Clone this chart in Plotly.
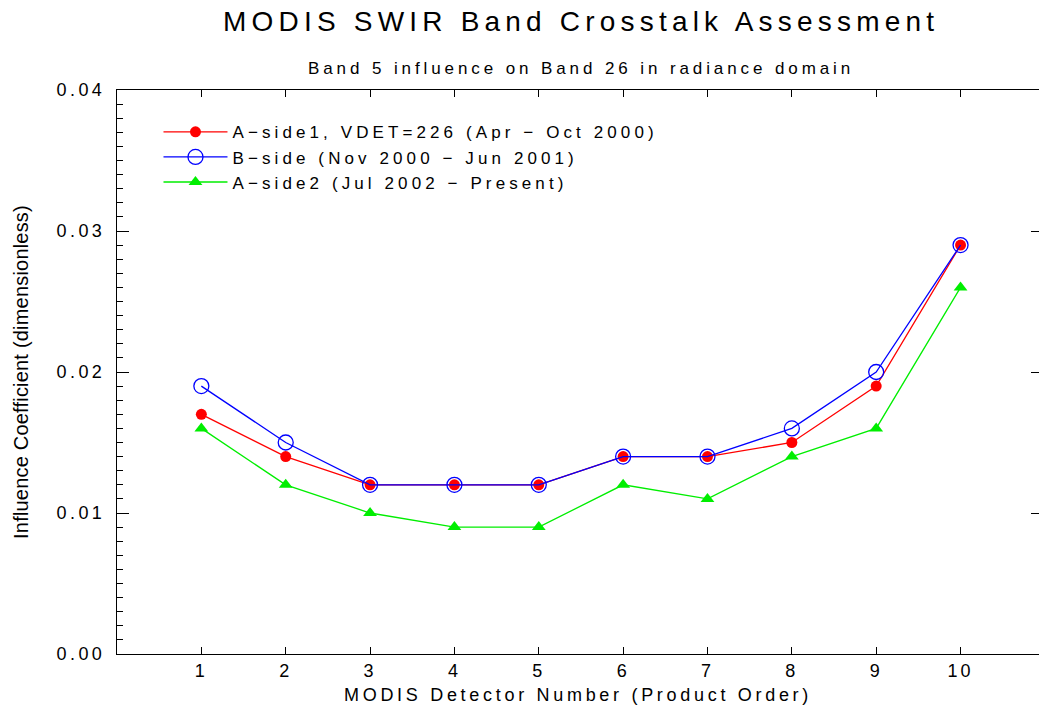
import plotly.graph_objects as go

detectors = [1, 2, 3, 4, 5, 6, 7, 8, 9, 10]
a_side1 = [0.017, 0.014, 0.012, 0.012, 0.012, 0.014, 0.014, 0.015, 0.019, 0.029]
b_side = [0.019, 0.015, 0.012, 0.012, 0.012, 0.014, 0.014, 0.016, 0.020, 0.029]
a_side2 = [0.016, 0.012, 0.010, 0.009, 0.009, 0.012, 0.011, 0.014, 0.016, 0.026]
y_ticks = [0, 0.01, 0.02, 0.03, 0.04]
y_ticklabels = ["0.00", "0.01", "0.02", "0.03", "0.04"]

names = ["A\u2212side1, VDET=226 (Apr \u2212 Oct 2000)",
         "B\u2212side (Nov 2000 \u2212 Jun 2001)",
         "A\u2212side2 (Jul 2002 \u2212 Present)"]
title_text = "MODIS SWIR Band Crosstalk Assessment"
subtitle_text = "Band 5 influence on Band 26 in radiance domain"
x_title = "MODIS Detector Number (Product Order)"
y_title = "Influence Coefficient (dimensionless)"

FONT = "Liberation Sans, Arial, sans-serif"


def sp(text, px):
    return "<span style='letter-spacing:%spx'>%s</span>" % (px, text)


fig = go.Figure()
fig.add_trace(go.Scatter(x=detectors, y=a_side1, mode="lines+markers", name=sp(names[0], 4.1),
                         line=dict(color="#ff0000", width=1.3),
                         marker=dict(symbol="circle", size=11, color="#ff0000")))
fig.add_trace(go.Scatter(x=detectors, y=b_side, mode="lines+markers", name=sp(names[1], 4.1),
                         line=dict(color="#0000ff", width=1.3),
                         marker=dict(symbol="circle-open", size=15, color="#0000ff", line=dict(width=1.3))))
fig.add_trace(go.Scatter(x=detectors, y=a_side2, mode="lines+markers", name=sp(names[2], 4.1),
                         line=dict(color="#00ee00", width=1.3),
                         marker=dict(symbol="triangle-up", size=12, color="#00ee00")))
# invisible trace to enable right-side axis ticks
fig.add_trace(go.Scatter(x=[None], y=[None], yaxis="y2", showlegend=False, hoverinfo="skip"))

fig.update_layout(
    width=1039, height=709,
    margin=dict(l=117, r=0, t=90, b=55),
    paper_bgcolor="white", plot_bgcolor="white",
    font=dict(family=FONT, color="black"),
    xaxis=dict(range=[0, 10.93], tickvals=detectors, ticktext=[sp(str(d), 3) for d in detectors],
               ticks="inside", ticklen=7, tickcolor="black", showgrid=False, zeroline=False,
               showline=True, linecolor="black", linewidth=1.3, mirror="ticks",
               tickfont=dict(size=18),
               title=dict(text=sp(x_title, 3.7), font=dict(size=18), standoff=8)),
    yaxis=dict(range=[0, 0.04], tickvals=y_ticks, ticktext=[sp(t, 3.4) for t in y_ticklabels],
               ticks="inside", ticklen=12, tickcolor="black", showgrid=False, zeroline=False,
               showline=True, linecolor="black", linewidth=1.3,
               minor=dict(dtick=0.001, ticks="inside", ticklen=6, tickcolor="black"),
               tickfont=dict(size=18), ticklabelstandoff=7,
               title=dict(text=sp(y_title, 0.2),
                          font=dict(size=20, family="Liberation Sans Narrow, Arial Narrow, " + FONT),
                          standoff=22)),
    yaxis2=dict(range=[0, 0.04], overlaying="y", side="right", tickvals=y_ticks[1:4],
                ticks="inside", ticklen=8, tickcolor="black", showticklabels=False,
                showgrid=False, zeroline=False, showline=False),
    legend=dict(x=0.045, y=0.957, xanchor="left", yanchor="top", bgcolor="rgba(0,0,0,0)",
                font=dict(size=17), tracegroupgap=0, itemwidth=64),
    showlegend=True,
    annotations=[
        dict(text=sp(title_text, 5.2), x=581, y=22, xref="paper", yref="paper",
             showarrow=False, font=dict(size=28, family=FONT)),
        dict(text=sp(subtitle_text, 3.9), x=581, y=68, xref="paper", yref="paper",
             showarrow=False, font=dict(size=17, family=FONT)),
    ],
)
# convert pixel positions of title annotations to paper coordinates
W, H = 1039, 709
L, R, T, B = 117, 0, 90, 55
pw, ph = W - L - R, H - T - B
for ann in fig.layout.annotations:
    ann.x = (ann.x - L) / pw
    ann.y = (H - B - ann.y) / ph
    ann.xanchor = "center"
    ann.yanchor = "middle"

fig.write_html("out.html")
